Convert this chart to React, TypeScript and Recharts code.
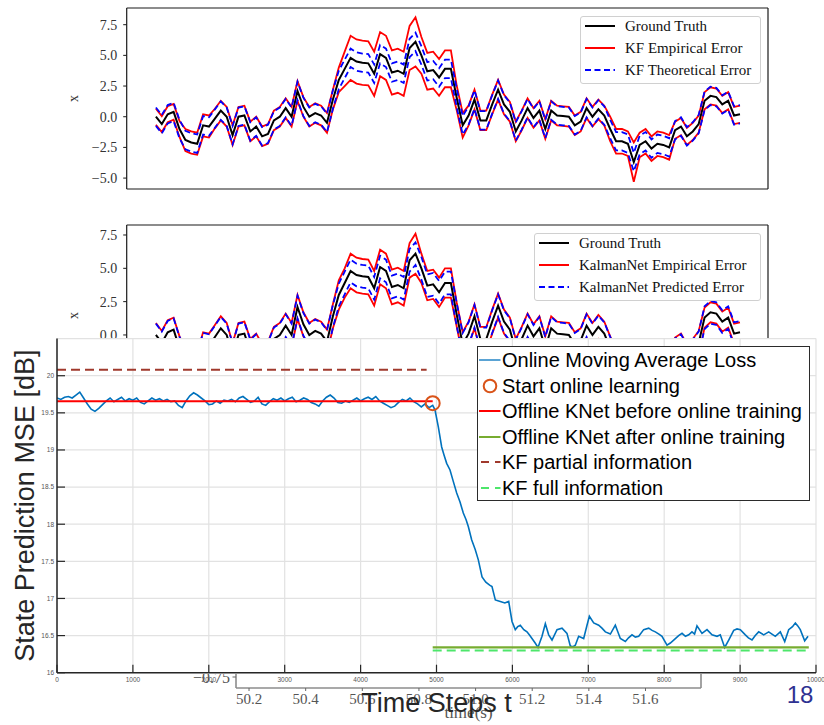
import React from 'react';
import {
  ComposedChart,
  Line,
  XAxis,
  YAxis,
  CartesianGrid,
  ReferenceLine,
  Legend,
  Scatter,
} from 'recharts';

const SANS = '"Liberation Sans", Arial, Helvetica, sans-serif';
const SERIF = '"Liberation Serif", "Times New Roman", serif';

// ---------------- Top two panels (trajectory, x vs time index) ----------------
const stepIndex = Array.from({ length: 100 }, (_, k) => k + 1);
const trackXTicks = [0, 20, 40, 60, 80, 100];
const trackYTicks = [-5, -2.5, 0, 2.5, 5, 7.5];

const groundTruth = [
  0.0, -0.6, 0.2, 0.4, -1.0, -1.9, -2.1, -2.2, -0.7, -0.8,
  -0.15, 0.5, 0.0, -1.5, 0.0, 0.1, -1.2, -0.8, -1.6, -1.4,
  -0.3, 0.0, 0.7, 0.0, 2.1, 0.8, 0.0, 0.3, 0.1, -0.5,
  1.4, 3.0, 3.9, 4.8, 4.5, 4.4, 4.35, 3.5, 5.1, 4.8,
  3.6, 3.75, 3.5, 5.6, 6.1, 5.0, 3.7, 3.8, 3.2, 3.9,
  3.9, 1.5, -0.7, 0.1, 1.4, -0.3, -0.3, 1.0, 2.2, 1.0,
  0.4, -1.2, -0.3, 0.7, -0.1, 0.5, -1.0, 0.5, 0.1, 0.05,
  0.0, -0.7, -0.4, 0.7, 0.0, 0.6, 0.1, -1.0, -2.0, -2.0,
  -2.2, -3.7, -2.3, -2.0, -2.6, -2.2, -2.3, -2.5, -1.1, -0.8,
  -1.6, -1.2, -0.6, 1.3, 1.7, 1.6, 1.0, 1.3, 0.1, 0.2,
];

const kfEmpiricalError = [
  0.65, 0.65, 0.65, 0.65, 0.65, 0.9, 0.9, 0.9, 0.9, 0.9,
  0.8, 0.8, 0.8, 0.8, 0.8, 0.8, 0.8, 0.8, 0.8, 0.8,
  0.8, 0.8, 0.8, 0.8, 0.8, 0.8, 0.8, 0.8, 0.8, 0.8,
  0.8, 1.0, 1.4, 1.8, 1.8, 1.8, 1.8, 1.8, 1.8, 1.8,
  1.8, 1.8, 1.8, 1.8, 2.0, 1.5, 1.5, 1.5, 1.5, 1.5,
  1.5, 1.0, 1.0, 0.8, 0.8, 0.8, 0.8, 0.8, 0.8, 0.8,
  0.8, 0.8, 0.8, 0.8, 0.8, 0.8, 0.8, 0.8, 0.8, 0.8,
  0.8, 0.8, 0.8, 0.8, 0.8, 0.8, 0.8, 1.0, 1.0, 1.0,
  1.0, 1.6, 1.0, 1.0, 1.0, 1.0, 1.0, 1.0, 0.7, 0.7,
  0.7, 0.7, 0.7, 0.7, 0.7, 0.7, 0.7, 0.7, 0.7, 0.7,
];
const kfTheoreticalError = 0.75;

const knetEmpiricalError = [
  0.9, 0.9, 0.9, 0.9, 0.9, 0.9, 0.9, 0.9, 0.9, 0.9,
  0.9, 0.9, 0.9, 0.9, 0.9, 0.9, 0.9, 0.9, 0.9, 0.9,
  0.9, 0.9, 0.9, 0.9, 0.9, 0.9, 0.9, 0.9, 0.9, 0.9,
  0.9, 1.1, 1.1, 1.3, 1.3, 1.3, 1.3, 1.3, 1.3, 1.3,
  1.3, 1.3, 1.3, 1.3, 1.5, 1.1, 1.1, 1.1, 1.1, 1.1,
  1.1, 0.9, 0.9, 0.9, 0.9, 0.9, 0.9, 0.9, 0.9, 0.9,
  0.9, 0.9, 0.9, 0.9, 0.9, 0.9, 0.9, 0.9, 0.9, 0.9,
  0.9, 0.9, 0.9, 0.9, 0.9, 0.9, 0.9, 0.9, 0.9, 0.9,
  0.9, 0.9, 0.9, 0.9, 0.9, 0.9, 0.9, 0.9, 0.9, 0.9,
  0.9, 0.9, 0.9, 0.75, 0.75, 0.75, 0.75, 0.75, 0.75, 0.75,
];
const knetPredictedError = 0.85;

// ---------------- Hidden third panel (time axis) ----------------
const timeTicks = [50.2, 50.4, 50.6, 50.8, 51.0, 51.2, 51.4, 51.6];
const timeYTicks = [-0.75, -0.5, -0.25, 0, 0.25];

// ---------------- Front panel: online learning MSE ----------------
const mseXTicks = [0, 1000, 2000, 3000, 4000, 5000, 6000, 7000, 8000, 9000, 10000];
const mseYTicks = [16, 16.5, 17, 17.5, 18, 18.5, 19, 19.5, 20];

const flatSteps = Array.from({ length: 100 }, (_, k) => k * 50);
const flatLoss = [
  19.70, 19.68, 19.71, 19.72, 19.70, 19.74, 19.78, 19.70, 19.62, 19.55,
  19.52, 19.56, 19.61, 19.66, 19.70, 19.65, 19.68, 19.71, 19.66, 19.69,
  19.67, 19.70, 19.64, 19.62, 19.66, 19.70, 19.67, 19.69, 19.66, 19.68,
  19.65, 19.66, 19.60, 19.57, 19.66, 19.73, 19.77, 19.74, 19.70, 19.66,
  19.61, 19.62, 19.66, 19.63, 19.67, 19.66, 19.68, 19.65, 19.70, 19.72,
  19.68, 19.64, 19.66, 19.71, 19.62, 19.60, 19.65, 19.69, 19.67, 19.70,
  19.66, 19.69, 19.71, 19.65, 19.67, 19.70, 19.68, 19.64, 19.62, 19.59,
  19.66, 19.71, 19.74, 19.70, 19.64, 19.63, 19.66, 19.64, 19.67, 19.70,
  19.66, 19.69, 19.71, 19.68, 19.72, 19.66, 19.63, 19.60, 19.57, 19.59,
  19.64, 19.68, 19.66, 19.70, 19.65, 19.62, 19.58, 19.62, 19.57, 19.60,
];
const onlineSteps = [
  4980, 5024, 5068, 5100, 5134, 5178, 5220, 5266, 5310, 5353,
  5390, 5419, 5463, 5510, 5551, 5600, 5650, 5700, 5731, 5775,
  5840, 5900, 5951, 5995, 6038, 6070, 6104, 6150, 6192, 6230,
  6258, 6300, 6337, 6390, 6434, 6478, 6522, 6588, 6654, 6719,
  6763, 6800, 6829, 6873, 6939, 6983, 7014, 7071, 7137, 7180,
  7225, 7291, 7356, 7422, 7488, 7530, 7576, 7620, 7664, 7730,
  7796, 7840, 7883, 7930, 7971, 8037, 8081, 8147, 8190, 8235,
  8280, 8323, 8366, 8400, 8432, 8498, 8564, 8630, 8696, 8739,
  8797, 8850, 8916, 8960, 9003, 9069, 9110, 9157, 9200, 9245,
  9311, 9377, 9420, 9464, 9530, 9588, 9640, 9690, 9728, 9760,
  9793, 9851, 9895,
];
const onlineLoss = [
  19.54, 19.31, 19.04, 18.93, 18.82, 18.73, 18.58, 18.42, 18.30, 18.15,
  18.06, 17.97, 17.79, 17.66, 17.52, 17.29, 17.22, 17.18, 17.16, 16.98,
  16.96, 16.94, 16.96, 16.69, 16.58, 16.62, 16.64, 16.58, 16.55, 16.50,
  16.46, 16.40, 16.34, 16.49, 16.66, 16.51, 16.44, 16.58, 16.60, 16.53,
  16.36, 16.35, 16.37, 16.49, 16.46, 16.64, 16.76, 16.67, 16.64, 16.60,
  16.55, 16.52, 16.64, 16.46, 16.42, 16.47, 16.51, 16.48, 16.49, 16.58,
  16.60, 16.57, 16.55, 16.52, 16.49, 16.37, 16.40, 16.46, 16.50, 16.53,
  16.49, 16.51, 16.55, 16.52, 16.63, 16.53, 16.58, 16.51, 16.49, 16.51,
  16.34, 16.44, 16.57, 16.59, 16.58, 16.51, 16.47, 16.44, 16.50, 16.55,
  16.51, 16.55, 16.52, 16.49, 16.55, 16.42, 16.58, 16.62, 16.67, 16.63,
  16.58, 16.43, 16.49,
];

const kfPartialLevel = 20.08;
const kfPartialSpan = [0, 4870];
const offlineBeforeLevel = 19.655;
const offlineBeforeSpan = [0, 4950];
const startOnline = { t: 4950, v: 19.63 };
const offlineAfterLevel = 16.34;
const offlineAfterSpan = [4950, 9905];
const kfFullLevel = 16.3;
const kfFullSpan = [4950, 9905];

const BLUE = '#0072BD';
const ORANGE = '#D95319';
const RED = '#FF0000';
const GREEN = '#77AC30';
const BROWN = '#A0392C';
const LIGHTGREEN = '#4DE66B';

const fmt1 = (v: number) => (v < 0 ? '\u2212' : '') + Math.abs(v).toFixed(1);
const fmt2 = (v: number) => (v < 0 ? '\u2212' : '') + Math.abs(v).toFixed(2);

type Sample = { color: string; width: number; dash?: string };

function TrackLegend({ items }: { items: { label: string; sample: Sample }[] }) {
  return (
    <div
      style={{
        position: 'relative',
        width: '100%',
        height: '100%',
        boxSizing: 'border-box',
        border: '1px solid #d0d0d0',
        borderRadius: 3,
        background: 'rgba(255,255,255,0.9)',
      }}
    >
      {items.map((it, k) => (
        <div
          key={k}
          style={{
            position: 'absolute',
            left: 0,
            top: 9.3 + 21.8 * k - 10,
            height: 20,
            display: 'flex',
            alignItems: 'center',
          }}
        >
          <svg width={44} height={20} style={{ flex: 'none' }}>
            <line
              x1={4}
              x2={34}
              y1={10}
              y2={10}
              stroke={it.sample.color}
              strokeWidth={it.sample.width}
              strokeDasharray={it.sample.dash}
            />
          </svg>
          <span style={{ fontFamily: SERIF, fontSize: 15, color: '#111', whiteSpace: 'nowrap', lineHeight: '20px' }}>
            {it.label}
          </span>
        </div>
      ))}
    </div>
  );
}

function TrackPanel(props: {
  top: number;
  height: number;
  plotTop: number;
  yDomain: [number, number];
  errors: number[];
  sigma: number;
  labels: string[];
  legendBox: { left: number; top: number; width: number; height: number };
}) {
  const { top, height, plotTop, yDomain, errors, sigma, labels, legendBox } = props;
  const data = stepIndex.map((i, k) => ({
    i,
    gt: groundTruth[k],
    eHi: groundTruth[k] + errors[k],
    eLo: groundTruth[k] - errors[k],
    tHi: groundTruth[k] + sigma,
    tLo: groundTruth[k] - sigma,
  }));
  const plotH = 181;
  const xAxisH = 8;
  const frame = '#1a1a1a';
  const items = [
    { label: labels[0], sample: { color: '#000', width: 2 } },
    { label: labels[1], sample: { color: RED, width: 2 } },
    { label: labels[2], sample: { color: '#0000FF', width: 2, dash: '6 3.5' } },
  ];
  return (
    <div style={{ position: 'absolute', left: 0, top, width: 824, height }}>
      <ComposedChart
        width={824}
        height={height}
        data={data}
        margin={{ top: plotTop, right: 56, bottom: height - plotTop - plotH - xAxisH, left: 66.7 }}
      >
        <XAxis
          dataKey="i"
          type="number"
          domain={[-3.95, 104.75]}
          ticks={trackXTicks}
          allowDataOverflow
          height={xAxisH}
          tick={false}
          tickSize={5}
          axisLine={{ stroke: frame, strokeWidth: 1.2 }}
          tickLine={{ stroke: frame, strokeWidth: 1 }}
        />
        <YAxis
          type="number"
          domain={yDomain}
          ticks={trackYTicks}
          allowDataOverflow
          width={60}
          tickSize={3.5}
          tickMargin={6}
          tickFormatter={fmt1}
          tick={{ fontSize: 14, fill: '#333', fontFamily: SERIF }}
          axisLine={{ stroke: frame, strokeWidth: 1.2 }}
          tickLine={{ stroke: frame, strokeWidth: 1 }}
          label={{
            content: (p: any) => {
              const vb = p.viewBox || { x: 66.7, y: plotTop, width: 60, height: plotH };
              const cx = vb.x + 6.8;
              const cy = vb.y + vb.height / 2;
              return (
                <text
                  x={cx}
                  y={cy}
                  transform={`rotate(-90 ${cx} ${cy})`}
                  textAnchor="middle"
                  dominantBaseline="central"
                  fontFamily={SERIF}
                  fontSize={14}
                  fill="#333"
                >
                  x
                </text>
              );
            },
          }}
        />
        <ReferenceLine y={yDomain[1]} stroke={frame} strokeWidth={1.2} ifOverflow="visible" />
        <ReferenceLine x={104.75} stroke={frame} strokeWidth={1.2} ifOverflow="visible" />
        <Line type="linear" dataKey="gt" stroke="#000" strokeWidth={2} dot={false} isAnimationActive={false} />
        <Line type="linear" dataKey="eHi" stroke={RED} strokeWidth={1.8} dot={false} isAnimationActive={false} />
        <Line type="linear" dataKey="eLo" stroke={RED} strokeWidth={1.8} dot={false} isAnimationActive={false} />
        <Line
          type="linear"
          dataKey="tHi"
          stroke="#0000FF"
          strokeWidth={1.8}
          strokeDasharray="6 3.5"
          dot={false}
          isAnimationActive={false}
        />
        <Line
          type="linear"
          dataKey="tLo"
          stroke="#0000FF"
          strokeWidth={1.8}
          strokeDasharray="6 3.5"
          dot={false}
          isAnimationActive={false}
        />
        <Legend
          layout="horizontal"
          verticalAlign="middle"
          align="center"
          wrapperStyle={{ ...legendBox }}
          content={() => <TrackLegend items={items} />}
        />
      </ComposedChart>
    </div>
  );
}

function TimePanel() {
  const frame = '#8c8c8c';
  return (
    <div style={{ position: 'absolute', left: 0, top: 400, width: 824, height: 325 }}>
      <ComposedChart width={824} height={325} margin={{ top: 24, right: 123, bottom: 19, left: 176 }}>
        <XAxis
          dataKey="t"
          type="number"
          domain={[50.154, 51.796]}
          ticks={timeTicks}
          allowDataOverflow
          height={18}
          tickSize={3}
          tickMargin={2}
          tickFormatter={(v: number) => v.toFixed(1)}
          tick={{ fontSize: 15, fill: '#555', fontFamily: SERIF }}
          axisLine={{ stroke: frame, strokeWidth: 1.6 }}
          tickLine={{ stroke: '#666', strokeWidth: 1 }}
          label={{ value: 'time(s)', position: 'bottom', offset: 0, fill: '#555', fontSize: 17, fontFamily: SERIF }}
        />
        <YAxis
          type="number"
          domain={[-0.8, 0.4]}
          ticks={timeYTicks}
          allowDataOverflow
          width={60}
          tickSize={3.5}
          tickMargin={2.5}
          tickFormatter={fmt2}
          tick={{ fontSize: 16, fill: '#555', fontFamily: SERIF }}
          axisLine={{ stroke: frame, strokeWidth: 1.6 }}
          tickLine={{ stroke: '#666', strokeWidth: 1 }}
        />
        <ReferenceLine x={51.796} stroke={frame} strokeWidth={1.6} ifOverflow="visible" />
      </ComposedChart>
    </div>
  );
}

function MseSample({ kind, color }: { kind: 'line' | 'thin' | 'circle' | 'dash'; color: string }) {
  return (
    <svg width={24} height={24} style={{ flex: 'none' }}>
      {kind === 'circle' ? (
        <circle cx={12} cy={12} r={6.3} fill="none" stroke={color} strokeWidth={2} />
      ) : (
        <line
          x1={kind === 'dash' ? 3 : 1}
          x2={22.5}
          y1={12}
          y2={12}
          stroke={color}
          strokeWidth={kind === 'thin' ? 1.3 : 2}
          strokeDasharray={kind === 'dash' ? '8 6' : undefined}
        />
      )}
    </svg>
  );
}

function MseLegend() {
  const rows: { label: string; kind: 'line' | 'thin' | 'circle' | 'dash'; color: string }[] = [
    { label: 'Online Moving Average Loss', kind: 'thin', color: BLUE },
    { label: 'Start online learning', kind: 'circle', color: ORANGE },
    { label: 'Offline KNet before online training', kind: 'line', color: RED },
    { label: 'Offline KNet after online training', kind: 'line', color: GREEN },
    { label: 'KF partial information', kind: 'dash', color: BROWN },
    { label: 'KF full information', kind: 'dash', color: LIGHTGREEN },
  ];
  return (
    <div
      style={{
        position: 'relative',
        width: '100%',
        height: '100%',
        boxSizing: 'border-box',
        border: '1px solid #2b2b2b',
        background: '#fff',
      }}
    >
      {rows.map((r, k) => (
        <div
          key={k}
          style={{
            position: 'absolute',
            left: 0,
            top: 13 + 25.6 * k - 12,
            height: 24,
            display: 'flex',
            alignItems: 'center',
          }}
        >
          <MseSample kind={r.kind} color={r.color} />
          <span style={{ fontFamily: SANS, fontSize: 20, color: '#000', whiteSpace: 'nowrap', lineHeight: '24px' }}>
            {r.label}
          </span>
        </div>
      ))}
    </div>
  );
}

function MsePanel() {
  const onlineData = [
    ...flatSteps.map((t, k) => ({ t, v: flatLoss[k] })),
    ...onlineSteps.map((t, k) => ({ t, v: onlineLoss[k] })),
  ];
  const kfPartialData = kfPartialSpan.map((t) => ({ t, v: kfPartialLevel }));
  const offlineBeforeData = offlineBeforeSpan.map((t) => ({ t, v: offlineBeforeLevel }));
  const offlineAfterData = offlineAfterSpan.map((t) => ({ t, v: offlineAfterLevel }));
  const kfFullData = kfFullSpan.map((t) => ({ t, v: kfFullLevel }));
  const startData = [startOnline];
  const axisColor = '#262626';
  return (
    <ComposedChart width={824} height={387} margin={{ top: 0.6, right: 8, bottom: 32.3, left: 0 }}>
      <CartesianGrid stroke="#e2e2e2" strokeWidth={1.2} />
      <XAxis
        dataKey="t"
        type="number"
        domain={[0, 10000]}
        ticks={mseXTicks}
        allowDataOverflow
        height={20}
        tickSize={-8}
        tickMargin={12.3}
        tick={{ fontSize: 6.5, fill: '#555', fontFamily: SANS }}
        axisLine={{ stroke: axisColor, strokeWidth: 1.5 }}
        tickLine={{ stroke: axisColor, strokeWidth: 1.2 }}
        label={{ value: 'Time Steps t', position: 'bottom', offset: 0, fill: axisColor, fontSize: 27, fontFamily: SANS }}
      />
      <YAxis
        type="number"
        domain={[16, 20.5]}
        ticks={mseYTicks}
        allowDataOverflow
        width={57}
        tickSize={-8}
        tickMargin={11}
        tick={{ fontSize: 6.5, fill: '#555', fontFamily: SANS }}
        axisLine={{ stroke: axisColor, strokeWidth: 1.5 }}
        tickLine={{ stroke: axisColor, strokeWidth: 1.2 }}
        label={{
          content: (p: any) => {
            const vb = p.viewBox || { x: 0, y: 0.6, width: 57, height: 334 };
            const cx = vb.x + 25;
            const cy = vb.y + vb.height / 2;
            return (
              <text
                x={cx}
                y={cy}
                transform={`rotate(-90 ${cx} ${cy})`}
                textAnchor="middle"
                dominantBaseline="central"
                fontFamily={SANS}
                fontSize={27}
                fill={axisColor}
              >
                State Prediction MSE [dB]
              </text>
            );
          },
        }}
      />
      <Line
        type="linear"
        data={onlineData}
        dataKey="v"
        stroke={BLUE}
        strokeWidth={1.6}
        dot={false}
        isAnimationActive={false}
      />
      <Scatter
        data={startData}
        dataKey="v"
        isAnimationActive={false}
        shape={(p: any) => <circle cx={p.cx} cy={p.cy} r={7} fill="none" stroke={ORANGE} strokeWidth={2} />}
      />
      <Line
        type="linear"
        data={offlineBeforeData}
        dataKey="v"
        stroke={RED}
        strokeWidth={2}
        dot={false}
        isAnimationActive={false}
      />
      <Line
        type="linear"
        data={offlineAfterData}
        dataKey="v"
        stroke={GREEN}
        strokeWidth={2.2}
        dot={false}
        isAnimationActive={false}
      />
      <Line
        type="linear"
        data={kfPartialData}
        dataKey="v"
        stroke={BROWN}
        strokeWidth={2}
        strokeDasharray="9 5"
        dot={false}
        isAnimationActive={false}
      />
      <Line
        type="linear"
        data={kfFullData}
        dataKey="v"
        stroke={LIGHTGREEN}
        strokeWidth={2}
        strokeDasharray="9 5"
        dot={false}
        isAnimationActive={false}
      />
      <Legend
        layout="horizontal"
        verticalAlign="middle"
        align="center"
        wrapperStyle={{ left: 477, top: 8, width: 333, height: 155 }}
        content={() => <MseLegend />}
      />
    </ComposedChart>
  );
}

export default function App() {
  return (
    <div
      style={{
        position: 'absolute',
        left: 0,
        top: 0,
        width: 824,
        height: 725,
        background: '#fff',
        overflow: 'hidden',
      }}
    >
      <TrackPanel
        top={0}
        height={200}
        plotTop={8}
        yDomain={[-5.89, 8.86]}
        errors={kfEmpiricalError}
        sigma={kfTheoreticalError}
        labels={['Ground Truth', 'KF Empirical Error', 'KF Theoretical Error']}
        legendBox={{ left: 580, top: 16, width: 181, height: 68 }}
      />
      <TrackPanel
        top={200}
        height={220}
        plotTop={25}
        yDomain={[-5.33, 8.25]}
        errors={knetEmpiricalError}
        sigma={knetPredictedError}
        labels={['Ground Truth', 'KalmanNet Empirical Error', 'KalmanNet Predicted Error']}
        legendBox={{ left: 534, top: 33, width: 227, height: 68 }}
      />
      <TimePanel />
      <div style={{ position: 'absolute', left: 0, top: 338, width: 824, height: 336, background: '#fff' }}>
        <MsePanel />
      </div>
      <div
        style={{
          position: 'absolute',
          left: 786.7,
          top: 683,
          fontFamily: SANS,
          fontSize: 24,
          lineHeight: '24px',
          color: '#2E3192',
        }}
      >
        18
      </div>
    </div>
  );
}
